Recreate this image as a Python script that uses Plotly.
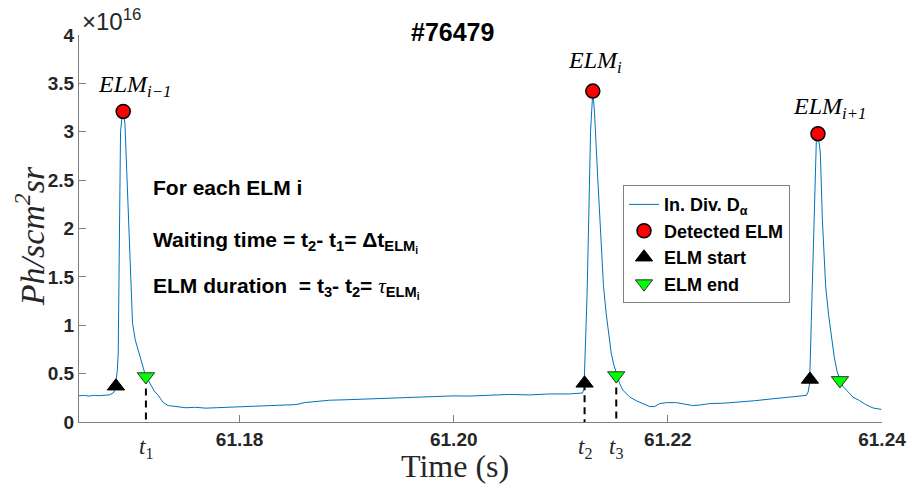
import plotly.graph_objects as go

# ---- data (time in s, signal in units of 1e16 Ph/scm^2sr) ----
time = [61.16493, 61.16549, 61.16595, 61.16642, 61.16689, 61.16736, 61.16782, 61.16820,
        61.16834, 61.16848, 61.16857, 61.16866, 61.16876, 61.16888, 61.16904, 61.16913,
        61.16929, 61.16953, 61.16976, 61.17000, 61.17025, 61.17053, 61.17081, 61.17116,
        61.17137, 61.17163, 61.17203, 61.17240, 61.17287, 61.17334, 61.17427, 61.17499,
        61.17586, 61.17686, 61.17792, 61.17904, 61.18044, 61.18215, 61.18371, 61.18527,
        61.18605, 61.18682, 61.18838, 61.18994, 61.19147, 61.19306, 61.19493, 61.19679,
        61.19866, 61.19997, 61.20147, 61.20334, 61.20521, 61.20708, 61.20894, 61.21081,
        61.21203, 61.21217, 61.21226, 61.21245, 61.21262, 61.21278, 61.21299, 61.21315,
        61.21346, 61.21378, 61.21399, 61.21424, 61.21446, 61.21471, 61.21493, 61.21518,
        61.21549, 61.21579, 61.21642, 61.21705, 61.21764, 61.21829, 61.21876, 61.21922,
        61.21988, 61.22079, 61.22156, 61.22231, 61.22296, 61.22390, 61.22530, 61.22670,
        61.22810, 61.22981, 61.23137, 61.23294, 61.23310, 61.23324, 61.23340, 61.23357,
        61.23371, 61.23387, 61.23402, 61.23424, 61.23443, 61.23474, 61.23502, 61.23527,
        61.23553, 61.23579, 61.23605, 61.23633, 61.23667, 61.23729, 61.23792, 61.23848,
        61.23916, 61.23994]
signal = [0.270, 0.275, 0.268, 0.276, 0.272, 0.278, 0.280, 0.300,
          0.330, 0.450, 0.520, 0.700, 1.800, 3.000, 3.170, 3.210,
          3.090, 2.400, 1.710, 1.020, 0.850, 0.740, 0.620, 0.500,
          0.450, 0.400, 0.320, 0.275, 0.200, 0.170, 0.160, 0.147,
          0.152, 0.143, 0.148, 0.153, 0.155, 0.160, 0.170, 0.180,
          0.200, 0.210, 0.225, 0.230, 0.236, 0.240, 0.250, 0.258,
          0.262, 0.270, 0.268, 0.280, 0.285, 0.280, 0.290, 0.290,
          0.300, 0.350, 0.600, 1.300, 2.160, 3.000, 3.420, 3.200,
          2.500, 1.810, 1.400, 1.120, 0.900, 0.710, 0.600, 0.500,
          0.400, 0.330, 0.260, 0.220, 0.190, 0.160, 0.160, 0.190,
          0.200, 0.200, 0.185, 0.170, 0.175, 0.190, 0.195, 0.205,
          0.220, 0.240, 0.260, 0.275, 0.310, 0.400, 1.050, 1.800,
          2.430, 2.920, 2.980, 2.780, 2.090, 1.400, 1.100, 0.880,
          0.680, 0.530, 0.440, 0.370, 0.330, 0.257, 0.220, 0.180,
          0.145, 0.130]

peak_t = [61.16913, 61.21299, 61.23402]
peak_v = [3.21, 3.42, 2.98]
start_t = [61.16845, 61.21222, 61.23327]
start_v = [0.37, 0.40, 0.44]
end_t = [61.17125, 61.21518, 61.23607]
end_v = [0.47, 0.48, 0.43]

elm_labels = ["ELM<sub>i−1</sub>", "ELM<sub>i</sub>", "ELM<sub>i+1</sub>"]
elm_label_t = [61.17016, 61.21315, 61.23511]
elm_label_v = [3.47, 3.72, 3.25]

marker_t = [61.17125, 61.21222, 61.21518]
marker_v = [0.47, 0.40, 0.48]
marker_names = ["1", "2", "3"]

x_ticks = [61.18, 61.20, 61.22, 61.24]
x_ticktext = ["61.18", "61.20", "61.22", "61.24"]
y_ticks = [0, 0.5, 1, 1.5, 2, 2.5, 3, 3.5, 4]
y_ticktext = ["0", "0.5", "1", "1.5", "2", "2.5", "3", "3.5", "4"]

SANS = "Liberation Sans, Arial, sans-serif"
SERIF = "Liberation Serif, Times New Roman, serif"
TXT = "#262626"

fig = go.Figure()

# dashed time markers
for t, v in zip(marker_t, marker_v):
    fig.add_trace(go.Scatter(x=[t, t], y=[v, 0], mode="lines", showlegend=False,
                             line=dict(color="black", width=2, dash="7px,5px"),
                             hoverinfo="skip"))

fig.add_trace(go.Scatter(x=time, y=signal, mode="lines", name="<b>In. Div. D<sub>α</sub></b>",
                         line=dict(color="#0072BD", width=1)))
fig.add_trace(go.Scatter(x=peak_t, y=peak_v, mode="markers", name="<b>Detected ELM</b>",
                         marker=dict(symbol="circle", size=14, color="red",
                                     line=dict(color="black", width=1.5))))
fig.add_trace(go.Scatter(x=start_t, y=start_v, mode="markers", name="<b>ELM start</b>",
                         marker=dict(symbol="triangle-up", size=15, color="black",
                                     line=dict(color="black", width=1))))
fig.add_trace(go.Scatter(x=end_t, y=end_v, mode="markers", name="<b>ELM end</b>",
                         marker=dict(symbol="triangle-down", size=15, color="#00FF00",
                                     line=dict(color="#333333", width=1))))

annotations = []
for lab, t, v in zip(elm_labels, elm_label_t, elm_label_v):
    annotations.append(dict(x=t, y=v, xref="x", yref="y", text="<i>" + lab + "</i>",
                            showarrow=False, font=dict(family=SERIF, size=24, color="black"),
                            xanchor="center", yanchor="middle"))
for name, t in zip(marker_names, marker_t):
    annotations.append(dict(x=t, y=-0.025, xref="x", yref="paper",
                            text="<i>t</i><sub>" + name + "</sub>", showarrow=False,
                            font=dict(family=SERIF, size=23, color=TXT),
                            xanchor="center", yanchor="top"))

texts = [
    ("For each ELM i", 187),
    ("Waiting time = t<sub>2</sub>- t<sub>1</sub>= Δt<sub>ELM<sub>i</sub></sub>", 242),
    ("ELM duration  = t<sub>3</sub>- t<sub>2</sub>= <span style='font-family:Liberation Serif;font-weight:normal'><i>τ</i></span><sub>ELM<sub>i</sub></sub>", 288),
]
for txt, ypx in texts:
    annotations.append(dict(x=(151 - 79) / 803, y=(421.5 - ypx) / 386.5, xref="paper", yref="paper",
                            text="<b>" + txt + "</b>", showarrow=False,
                            font=dict(family=SANS, size=21, color="black"),
                            xanchor="left", yanchor="middle"))

annotations.append(dict(x=(452 - 79) / 803, y=(421.5 - 32) / 386.5, xref="paper", yref="paper",
                        text="<b>#76479</b>", showarrow=False,
                        font=dict(family=SANS, size=25, color="black"),
                        xanchor="center", yanchor="middle"))
annotations.append(dict(x=0, y=(421.5 - 20) / 386.5, xref="paper", yref="paper",
                        text="×10<sup>16</sup>", showarrow=False,
                        font=dict(family=SANS, size=24, color=TXT),
                        xanchor="left", yanchor="middle", xshift=1))
annotations.append(dict(x=(30 - 79) / 803, y=(421.5 - 236) / 386.5, xref="paper", yref="paper",
                        text="<i>Ph/scm<sup>2</sup>sr</i>", showarrow=False, textangle=-90,
                        font=dict(family=SERIF, size=34, color=TXT),
                        xanchor="center", yanchor="middle"))
annotations.append(dict(x=(455 - 79) / 803, y=(421.5 - 465) / 386.5, xref="paper", yref="paper",
                        text="Time (s)", showarrow=False,
                        font=dict(family=SERIF, size=32, color=TXT),
                        xanchor="center", yanchor="middle"))

fig.update_layout(
    width=911, height=484,
    margin=dict(l=79, r=29, t=35, b=62, autoexpand=False),
    paper_bgcolor="white", plot_bgcolor="white",
    showlegend=True,
    legend=dict(x=(623 - 79) / 803, y=(421.5 - 185) / 386.5, xanchor="left", yanchor="top",
                bordercolor="#808080", borderwidth=1, bgcolor="white",
                font=dict(family=SANS, size=18, color="black"),
                tracegroupgap=0, itemwidth=30),
    annotations=annotations,
    xaxis=dict(range=[61.165, 61.24], tickvals=x_ticks,
               ticktext=["<b>" + s + "</b>" for s in x_ticktext],
               showgrid=False, zeroline=False, showline=True, linecolor="#808080",
               linewidth=1, ticks="inside", ticklen=7, tickcolor="#808080",
               tickfont=dict(family=SANS, size=19, color=TXT),
               mirror=False, automargin=False),
    yaxis=dict(range=[0, 4], tickvals=y_ticks,
               ticktext=["<b>" + s + "</b>" for s in y_ticktext],
               showgrid=False, zeroline=False, showline=True, linecolor="#808080",
               linewidth=1, ticks="inside", ticklen=7, tickcolor="#808080",
               tickfont=dict(family=SANS, size=19, color=TXT),
               mirror=False, automargin=False),
)

fig.write_html("out.html")
